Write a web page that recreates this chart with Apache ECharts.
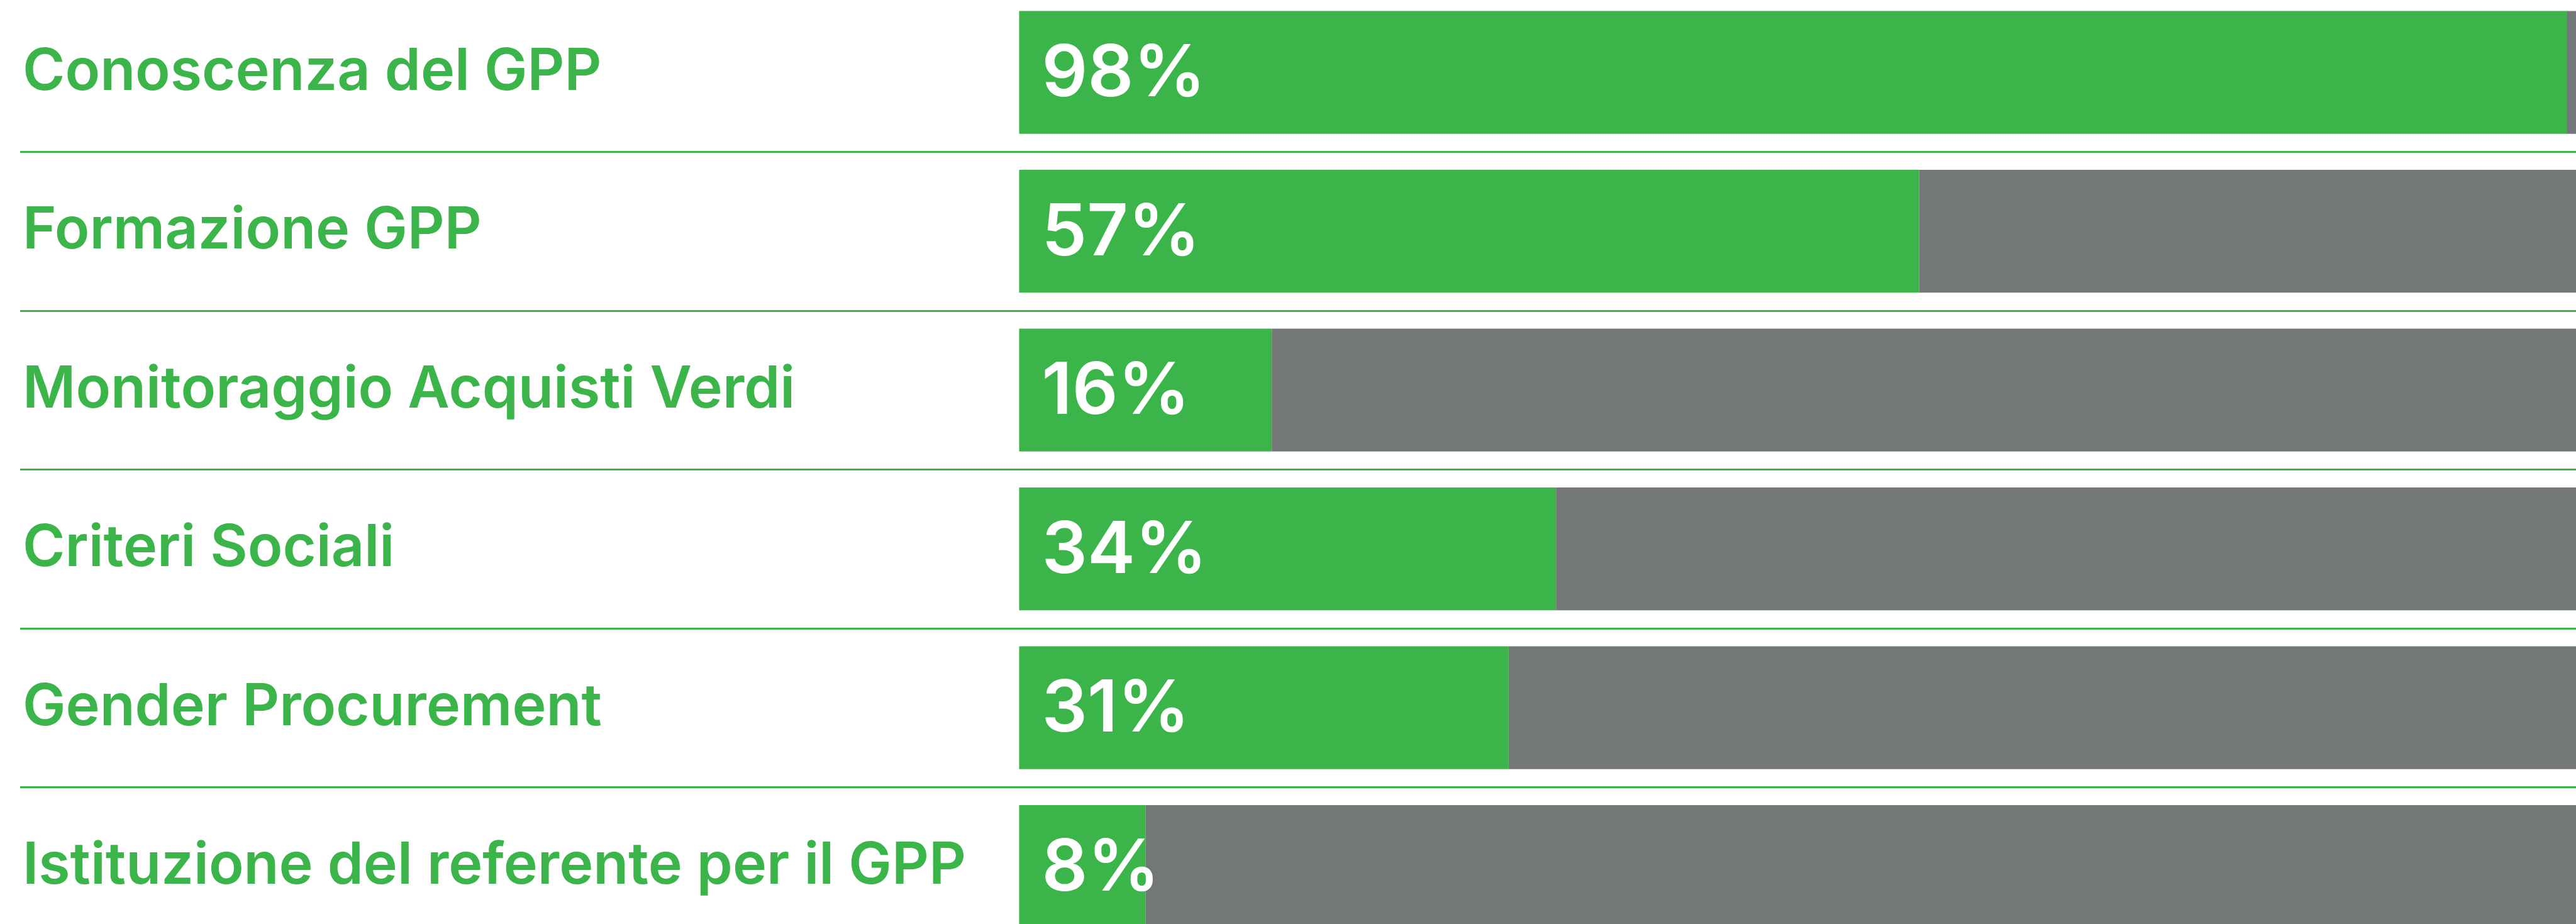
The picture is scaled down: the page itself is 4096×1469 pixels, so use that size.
<!DOCTYPE html>
<html>
<head>
<meta charset="utf-8">
<script src="https://cdn.jsdelivr.net/npm/echarts@6/dist/echarts.min.js"></script>
<style>
html,body{margin:0;padding:0;background:#ffffff;}
#chart{width:4096px;height:1469px;}
</style>
</head>
<body>
<div id="chart"></div>
<script>
const categories = [
  "Conoscenza del GPP",
  "Formazione GPP",
  "Monitoraggio Acquisti Verdi",
  "Criteri Sociali",
  "Gender Procurement",
  "Istituzione del referente per il GPP"
];
const values = [98, 57, 16, 34, 31, 8];
const remainder = [2, 43, 84, 66, 69, 92];

const GREEN = '#3BB54A';
const GREY = '#737777';
const FONT = 'Inter';

const chart = echarts.init(document.getElementById('chart'), null, {renderer: 'canvas'});
chart.setOption({
  backgroundColor: '#ffffff',
  animation: false,
  grid: [
    {left: 1620.5, width: 2510.8, top: -11.2, height: 1515.2, containLabel: false, outerBoundsMode: 'none'},
    {left: 32, width: 4200, top: -11.2, height: 1515.2, containLabel: false, outerBoundsMode: 'none'}
  ],
  xAxis: [
    {type: 'value', gridIndex: 0, min: 0, max: 100, show: false},
    {type: 'value', gridIndex: 1, min: 0, max: 1, show: false}
  ],
  yAxis: [
    {type: 'category', gridIndex: 0, data: categories, inverse: true, show: false},
    {
      type: 'category', gridIndex: 1, data: categories, inverse: true,
      axisLine: {show: false}, axisTick: {show: false},
      splitLine: {show: true, interval: 0, lineStyle: {color: GREEN, width: 2.8}},
      axisLabel: {
        show: true, inside: true, interval: 0, margin: 4,
        color: GREEN, fontFamily: FONT, fontWeight: 600, fontSize: 91.5
      }
    }
  ],
  series: [
    {
      type: 'bar', xAxisIndex: 0, yAxisIndex: 0, stack: 's',
      data: values, barWidth: 195.3,
      itemStyle: {color: GREEN},
      label: {
        show: true, position: 'insideLeft', distance: 36, offset: [0, 4],
        formatter: '{c}%', color: '#ffffff',
        fontFamily: FONT, fontWeight: 600, fontSize: 114
      },
      silent: true
    },
    {
      type: 'bar', xAxisIndex: 0, yAxisIndex: 0, stack: 's',
      data: remainder, barWidth: 195.3,
      itemStyle: {color: GREY},
      silent: true
    }
  ]
});
</script>
</body>
</html>
